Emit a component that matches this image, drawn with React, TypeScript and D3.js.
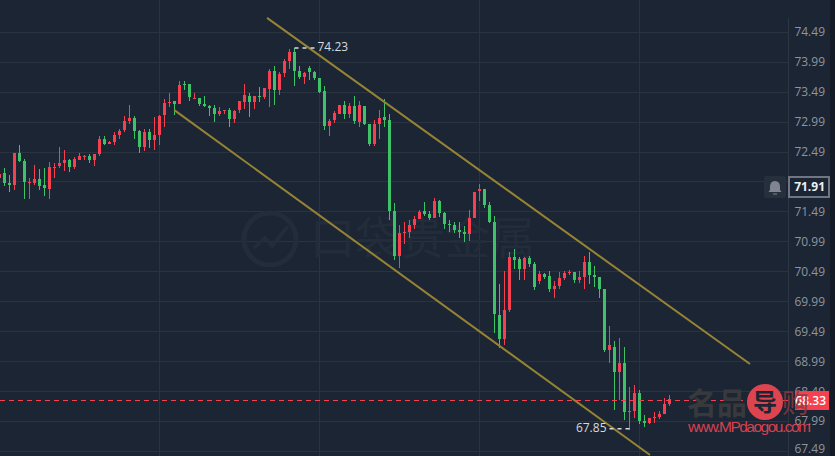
import React from "react";
import * as d3 from "d3";

// [open, high, low, close]
const candlesEarly: number[][] = [
  [72.06,72.19,72.02,72.13],[72.14,72.23,71.93,71.97],[71.97,72.10,71.83,71.94],[71.94,72.48,71.86,72.47],[72.47,72.60,72.33,72.34],
  [72.34,72.38,71.71,71.99],[71.97,72.05,71.70,71.99],[71.98,72.28,71.94,72.04],[72.04,72.20,71.85,71.92],[71.94,72.22,71.76,71.89],
  [71.87,72.32,71.71,72.24],[72.22,72.30,72.06,72.24],[72.26,72.57,72.23,72.31],[72.31,72.53,72.18,72.36],[72.36,72.38,72.16,72.24],
  [72.24,72.40,72.20,72.37],[72.36,72.48,72.36,72.42],[72.41,72.44,72.35,72.42],[72.42,72.45,72.30,72.36],[72.36,72.46,72.25,72.46],
  [72.46,72.75,72.43,72.71],[72.71,72.75,72.60,72.62],[72.62,72.67,72.62,72.66],[72.66,72.83,72.61,72.77],[72.77,72.87,72.70,72.84],
  [72.85,73.10,72.83,73.01],[73.01,73.27,72.96,73.06],[73.06,73.10,72.71,72.84],[72.84,72.86,72.48,72.57],[72.57,72.87,72.50,72.83],
  [72.82,72.87,72.56,72.69],[72.69,73.07,72.53,72.77],[72.77,73.11,72.61,73.09],[73.11,73.37,72.91,73.31],[73.31,73.48,73.25,73.32],
  [73.34,73.34,73.11,73.29],[73.29,73.67,73.29,73.61],[73.62,73.67,73.53,73.61],[73.62,73.62,73.35,73.41],[73.37,73.48,73.37,73.39],
  [73.39,73.40,73.26,73.29],[73.29,73.42,73.25,73.26],[73.26,73.28,73.10,73.22],[73.22,73.27,72.99,73.12],[73.12,73.25,73.10,73.17],
];
const candlesPeak: number[][] = [
  [73.17,73.20,73.13,73.19],[73.19,73.22,72.91,73.04],[73.04,73.20,72.98,73.17],[73.19,73.34,73.15,73.34],[73.32,73.62,73.21,73.44],
  [73.42,73.48,73.08,73.32],[73.32,73.42,73.21,73.42],[73.42,73.57,73.32,73.41],[73.41,73.56,73.37,73.56],[73.54,73.88,73.25,73.84],
  [73.84,73.93,73.28,73.52],[73.52,73.83,73.45,73.79],[73.81,74.05,73.75,74.01],[74.01,74.21,73.88,74.16],[74.16,74.23,73.60,73.84],
  [73.84,73.93,73.71,73.74],[73.74,73.83,73.63,73.81],[73.89,73.93,73.70,73.82],[73.82,73.84,73.70,73.72],[73.72,73.73,73.47,73.50],
  [73.51,73.59,72.86,72.92],[72.92,73.05,72.76,73.01],[73.02,73.17,72.98,73.14],[73.12,73.28,73.12,73.27],[73.27,73.34,73.05,73.12],
  [73.12,73.31,73.06,73.26],[73.26,73.42,72.96,73.01],[72.99,73.34,72.91,73.27],[73.26,73.26,72.94,72.96],[72.96,72.96,72.59,72.62],
  [72.62,73.02,72.59,72.96],[72.96,73.20,72.71,73.06],[73.07,73.37,72.91,73.02],[73.02,73.12,71.36,71.51],[71.51,71.64,70.68,70.76],
  [70.76,71.27,70.55,71.14],[71.14,71.32,70.95,71.16],[71.16,71.35,71.06,71.27],[71.27,71.43,71.21,71.37],[71.37,71.53,71.37,71.49],
  [71.51,71.65,71.43,71.46],[71.46,71.50,71.36,71.39],[71.39,71.73,71.39,71.67],[71.67,71.69,71.41,71.47],[71.47,71.49,71.21,71.29],
];
const candlesLate: number[][] = [
  [71.29,71.36,71.15,71.28],[71.27,71.32,71.14,71.19],[71.19,71.32,71.05,71.16],[71.16,71.25,70.98,71.12],[71.12,71.53,71.00,71.39],
  [71.39,71.82,71.39,71.82],[71.84,71.95,71.67,71.87],[71.87,71.87,71.55,71.61],[71.61,71.66,71.31,71.32],[71.32,71.43,69.46,69.78],
  [69.77,70.28,69.22,69.37],[69.37,70.50,69.26,69.86],[69.86,70.82,69.82,70.74],[70.74,70.87,70.53,70.69],[70.71,70.73,70.35,70.54],
  [70.54,70.73,70.35,70.72],[70.72,70.75,70.57,70.62],[70.62,70.66,70.18,70.24],[70.34,70.50,70.28,70.46],[70.46,70.47,70.37,70.41],
  [70.42,70.50,70.15,70.21],[70.21,70.33,70.06,70.26],[70.26,70.48,70.21,70.39],[70.39,70.51,70.36,70.47],[70.47,70.52,70.43,70.49],
  [70.49,70.49,70.30,70.36],[70.36,70.51,70.31,70.41],[70.41,70.76,70.20,70.66],[70.66,70.82,70.28,70.44],[70.44,70.58,70.23,70.41],
  [70.41,70.41,70.06,70.21],[70.21,70.21,69.15,69.19],[69.19,69.58,68.96,69.26],[69.24,69.33,68.18,68.81],[68.81,69.38,68.35,68.96],
  [68.96,69.23,68.01,68.15],[68.14,68.57,67.85,68.16],[68.16,68.60,68.05,68.47],[68.47,68.51,67.94,67.99],[67.99,68.10,67.89,67.96],
  [67.96,68.05,67.94,68.04],[68.04,68.14,67.97,68.06],[68.06,68.16,68.03,68.11],[68.12,68.38,68.12,68.29],[68.29,68.44,68.25,68.36],
];
const candles = [...candlesEarly, ...candlesPeak, ...candlesLate];
const firstIndex = -1;

const priceTicks = [74.49, 73.99, 73.49, 72.99, 72.49, 71.99, 71.49, 70.99, 70.49, 69.99, 69.49, 68.99, 68.49, 67.99, 67.49];
const hiddenTickLabels = [71.99];
const timeGridIndexes = [31, 63, 95, 127];
const upperChannel = [[52.5, 74.73], [149.1, 68.95]];
const lowerChannel = [[33.96, 73.19], [129.1, 67.43]];
const currentPrice = 68.34;
const bidLabel = "71.91";
const lastLabel = "68.33";
const highLabel = { index: 58, price: 74.21, text: "74.23" };
const lowLabel = { index: 125, price: 67.87, text: "67.85" };
const brandWatermark = "口袋贵金属";
const siteBrandLeft = "名品";
const siteBrandMid = "导";
const siteBrandRight = "购";
const siteUrl = "www.MPdaogou.com";

const BG = "#1c2533";
const GRID = "#2a3340";
const RED = "#f7404f";
const GREEN = "#3dc267";
const GOLD = "#968435";
const AXIS_TEXT = "#8e959f";
const MARK_TEXT = "#d8dbdf";
const WATERMARK = "#222c3a";
const FONT = "'Open Sans', sans-serif";

const W = 835;
const H = 456;
const x = d3.scaleLinear().domain([0, 100]).range([4.5, 504.5]);
const y = d3.scaleLinear().domain([74.49, 67.49]).range([32.3, 451.4]);
const line = d3.line<number[]>().x((d) => x(d[0])).y((d) => y(d[1]));

export default function App() {
  const priceY = Math.floor(y(currentPrice)) + 0.5;
  return (
    <svg width={W} height={H} style={{ position: "absolute", left: 0, top: 0, display: "block" }}>
      <rect width={W} height={H} fill={BG} />

      {priceTicks.map((t) => (
        <rect key={t} x={0} y={Math.floor(y(t))} width={788} height={1} fill={GRID} />
      ))}
      {timeGridIndexes.map((i) => (
        <rect key={i} x={Math.floor(x(i))} y={0} width={1} height={H} fill={GRID} />
      ))}

      {/* background brand watermark */}
      <g stroke={WATERMARK} fill="none" strokeWidth={5}>
        <circle cx={270} cy={239} r={26} />
        <path d="M254 248 L265 238 L272 246 L288 226" strokeWidth={4} />
      </g>
      <text x={310} y={255} fontFamily="'Noto Sans CJK SC'" fontSize={45} fill={WATERMARK}>{brandWatermark}</text>

      {/* candles */}
      {candles.map((c, i) => {
        const idx = i + firstIndex;
        const [o, h, l, cl] = c;
        const color = cl >= o ? RED : GREEN;
        const px = Math.floor(x(idx));
        const top = Math.round(y(Math.max(o, cl)));
        const bot = Math.round(y(Math.min(o, cl)));
        const wt = Math.round(y(h));
        const wb = Math.round(y(l));
        return (
          <g key={i} fill={color}>
            <rect x={px} y={wt} width={1} height={Math.max(1, wb - wt)} />
            <rect x={px - 1} y={top} width={3} height={Math.max(1, bot - top)} />
          </g>
        );
      })}

      {/* channel lines */}
      <path d={line(upperChannel) ?? ""} stroke={GOLD} strokeWidth={2} fill="none" />
      <path d={line(lowerChannel) ?? ""} stroke={GOLD} strokeWidth={2} fill="none" />

      {/* current price line */}
      <line x1={0} x2={788} y1={priceY} y2={priceY} stroke={RED} strokeWidth={1} strokeDasharray="5 4" />

      {/* high / low markers */}
      <line x1={x(highLabel.index)} x2={x(highLabel.index) + 21} y1={y(highLabel.price) - 1} y2={y(highLabel.price) - 1} stroke={MARK_TEXT} strokeWidth={1.5} strokeDasharray="4 4" />
      <text x={x(highLabel.index) + 23} y={y(highLabel.price) + 2} fontFamily={FONT} fontSize={12} fill={MARK_TEXT}>{highLabel.text}</text>
      <line x1={x(lowLabel.index)} x2={x(lowLabel.index) - 21} y1={y(lowLabel.price)} y2={y(lowLabel.price)} stroke={MARK_TEXT} strokeWidth={1.5} strokeDasharray="4 4" />
      <text x={x(lowLabel.index) - 23} y={y(lowLabel.price) + 3} textAnchor="end" fontFamily={FONT} fontSize={12} fill={MARK_TEXT}>{lowLabel.text}</text>

      {/* price axis */}
      <rect x={788} y={18} width={1} height={H - 18} fill="#2d3744" />
      <rect x={830} y={0} width={5} height={H} fill="#141b26" />
      {priceTicks.filter((t) => !hiddenTickLabels.includes(t)).map((t) => (
        <text key={t} x={825} y={Math.min(y(t) + 4, 453)} textAnchor="end" fontFamily={FONT} fontSize={12} fill={AXIS_TEXT}>
          {d3.format(".2f")(t)}
        </text>
      ))}

      {/* alert bell and bid box */}
      <rect x={764} y={176} width={22} height={22} rx={2} fill="#262f3c" />
      <path d="M775 181 q-5 0 -5 6 v3 l-1.5 2 h13 l-1.5 -2 v-3 q0 -6 -5 -6 Z M773 193.5 h4 v1 h-4 Z" fill="#7f8691" />
      <rect x={789} y={177} width={40} height={20} fill={BG} stroke="#6f7682" strokeWidth={2} />
      <text x={825} y={191} textAnchor="end" fontFamily={FONT} fontSize={12} fontWeight={700} fill="#eef0f2">{bidLabel}</text>

      {/* last price tag */}
      <rect x={795} y={391} width={34} height={19} fill={RED} />
      <text x={826} y={404.5} textAnchor="end" fontFamily={FONT} fontSize={12} fontWeight={600} fill="#ffffff">{lastLabel}</text>

      {/* site watermark */}
      <text x={687} y={414} fontFamily="'Noto Sans CJK SC'" fontSize={30} fontWeight={700} fill="#37393d">{siteBrandLeft}</text>
      <circle cx={765} cy={402} r={18} fill="#dc4450" />
      <text x={765} y={411} textAnchor="middle" fontFamily="'Noto Sans CJK SC'" fontSize={24} fontWeight={700} fill={BG}>{siteBrandMid}</text>
      <text x={782} y={413} fontFamily="'Noto Sans CJK SC'" fontSize={27} fill="#8a3a40" opacity={0.85}>{siteBrandRight}</text>
      <text x={688} y={432} fontFamily="'Liberation Sans'" fontSize={15.5} fill="#d8404f" textLength={123}>{siteUrl}</text>
    </svg>
  );
}
